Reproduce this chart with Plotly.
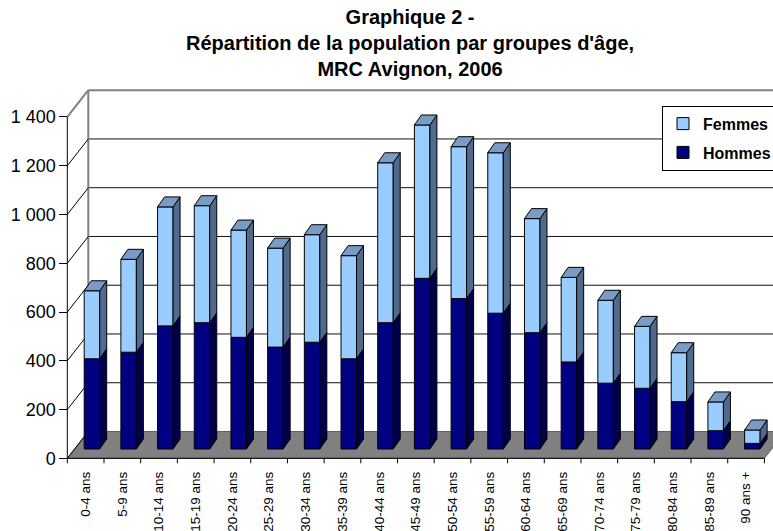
import plotly.graph_objects as go

# ---------------- data ----------------
categories = ["0-4 ans", "5-9 ans", "10-14 ans", "15-19 ans", "20-24 ans", "25-29 ans",
              "30-34 ans", "35-39 ans", "40-44 ans", "45-49 ans", "50-54 ans", "55-59 ans",
              "60-64 ans", "65-69 ans", "70-74 ans", "75-79 ans", "80-84 ans", "85-89 ans",
              "90 ans +"]
hommes = [370, 397, 505, 518, 458, 418, 438, 370, 518, 700, 617, 557, 477, 357, 270, 249, 194, 75, 23]
femmes = [279, 381, 488, 480, 440, 406, 441, 423, 656, 629, 623, 658, 468, 347, 340, 254, 201, 118, 55]
y_tick_values = [0, 200, 400, 600, 800, 1000, 1200, 1400]
y_tick_labels = ["0", "200", "400", "600", "800", "1 000", "1 200", "1 400"]
title_lines = ["Graphique 2 -", "Répartition de la population par groupes d'âge,", "MRC Avignon, 2006"]

# ---------------- colours ----------------
C_F_FRONT, C_F_SIDE, C_F_TOP = "#99CCFF", "#4F6A8C", "#7A9CC4"
C_H_FRONT, C_H_SIDE = "#000080", "#00004A"
C_FLOOR = "#808080"

# ---------------- geometry (pixels -> data units) ----------------
W, H = 773, 531
M_L, M_R, M_T, M_B = 57, 0, 85, 63
AX_X = 67.3          # pixel of front-left corner
ZERO_PX = 458.3      # pixel of value 0 on front plane
CAT_PX = 36.69       # pixel width of one category
PXY = 0.2438         # pixels per unit value
plot_w = W - M_L - M_R
plot_h = H - M_T - M_B

DX = 21 / CAT_PX     # full depth offset (x)
DY = 26.8 / PXY      # full depth offset (y)
BAR_OFF_X = 6.3 / CAT_PX
BAR_BASE = 9.3 / PXY
BAR_W = 15.5 / CAT_PX
SIDE_DX = 7 / CAT_PX
SIDE_DY = 10 / PXY

n = len(categories)
x_left = -0.5 - (AX_X - M_L) / CAT_PX
x_right = x_left + plot_w / CAT_PX
y_bottom = -((H - M_B) - ZERO_PX) / PXY
y_top = (ZERO_PX - M_T) / PXY

centers = list(range(n))
bar_x = [c + BAR_OFF_X for c in centers]
h_base = [BAR_BASE] * n
f_base = [BAR_BASE + h for h in hommes]

fig = go.Figure()

# front faces
fig.add_trace(go.Bar(x=bar_x, y=hommes, base=h_base, width=BAR_W, name="Hommes",
                     marker=dict(color=C_H_FRONT, line=dict(color="black", width=1)),
                     legendrank=2, legendgroup="h"))
fig.add_trace(go.Bar(x=bar_x, y=femmes, base=f_base, width=BAR_W, name="Femmes",
                     marker=dict(color=C_F_FRONT, line=dict(color="black", width=1)),
                     legendrank=1, legendgroup="f"))


def side_faces(bases, heights):
    xs, ys = [], []
    for bx, b, h in zip(bar_x, bases, heights):
        xr = bx + BAR_W / 2
        t = b + h
        xs += [xr, xr + SIDE_DX, xr + SIDE_DX, xr, xr, None]
        ys += [b, b + SIDE_DY, t + SIDE_DY, t, b, None]
    return xs, ys


def top_faces(bases, heights):
    xs, ys = [], []
    for bx, b, h in zip(bar_x, bases, heights):
        xl, xr = bx - BAR_W / 2, bx + BAR_W / 2
        t = b + h
        xs += [xl, xl + SIDE_DX, xr + SIDE_DX, xr, xl, None]
        ys += [t, t + SIDE_DY, t + SIDE_DY, t, t, None]
    return xs, ys


for (xs, ys), col in [(side_faces(h_base, hommes), C_H_SIDE),
                      (side_faces(f_base, femmes), C_F_SIDE),
                      (top_faces(f_base, femmes), C_F_TOP)]:
    fig.add_trace(go.Scatter(x=xs, y=ys, mode="lines", fill="toself", fillcolor=col,
                             line=dict(color="black", width=1), showlegend=False,
                             hoverinfo="skip"))

# ---------------- walls, floor, gridlines (shapes below traces) ----------------
shapes = []
x0f, x1f = -0.5, n - 0.5
# floor
shapes.append(dict(type="path", xref="x", yref="y", layer="below",
                   path=f"M {x0f},0 L {x1f},0 L {x1f + DX},{DY} L {x0f + DX},{DY} Z",
                   fillcolor=C_FLOOR, line=dict(color="#606060", width=1)))
# back wall gridlines
for v in y_tick_values[1:-1]:
    shapes.append(dict(type="line", xref="x", yref="y", layer="below",
                       x0=x0f + DX, x1=x1f + DX, y0=v + DY, y1=v + DY,
                       line=dict(color="#101010", width=1)))
# back wall top edge
top_v = y_tick_values[-1]
shapes.append(dict(type="line", xref="x", yref="y", layer="below",
                   x0=x0f + DX, x1=x1f + DX, y0=top_v + DY, y1=top_v + DY,
                   line=dict(color="#808080", width=2)))
# back wall left edge
shapes.append(dict(type="line", xref="x", yref="y", layer="below",
                   x0=x0f + DX, x1=x0f + DX, y0=DY, y1=top_v + DY,
                   line=dict(color="#808080", width=2)))
# side wall diagonals
for v in y_tick_values:
    col, wd = ("#808080", 2) if v == top_v else ("black", 1)
    shapes.append(dict(type="line", xref="x", yref="y", layer="below",
                       x0=x0f, x1=x0f + DX, y0=v, y1=v + DY,
                       line=dict(color=col, width=wd)))
# front y axis line
shapes.append(dict(type="line", xref="x", yref="y", layer="below",
                   x0=x0f, x1=x0f, y0=0, y1=top_v, line=dict(color="black", width=1)))
# front x axis line
shapes.append(dict(type="line", xref="x", yref="y", layer="below",
                   x0=x0f, x1=x1f, y0=0, y1=0, line=dict(color="black", width=1)))
# category boundary ticks
tick_len = 5 / PXY
for i in range(n + 1):
    b = i - 0.5
    shapes.append(dict(type="line", xref="x", yref="y", layer="below",
                       x0=b, x1=b, y0=0, y1=-tick_len, line=dict(color="black", width=1)))

fig.update_layout(
    width=W, height=H,
    margin=dict(l=M_L, r=M_R, t=M_T, b=M_B, autoexpand=False),
    paper_bgcolor="white", plot_bgcolor="white",
    barmode="overlay",
    shapes=shapes,
    showlegend=True,
    legend=dict(x=(662 - M_L) / plot_w, y=((H - M_B) - 105.7) / plot_h,
                xanchor="left", yanchor="top",
                bgcolor="white", bordercolor="black", borderwidth=1,
                font=dict(family="Liberation Sans, Arial, sans-serif", size=16,
                          color="black", weight="bold"),
                traceorder="grouped", tracegroupgap=5),
    xaxis=dict(range=[x_left, x_right], tickmode="array", tickvals=centers,
               ticktext=categories, tickangle=-90, ticks="outside", ticklen=7,
               tickcolor="rgba(0,0,0,0)", showgrid=False, zeroline=False, showline=False,
               anchor="free", position=((H - M_B) - ZERO_PX) / plot_h,
               tickfont=dict(family="Liberation Sans, Arial, sans-serif",
                             size=13.5, color="black"),
               fixedrange=True),
    yaxis=dict(range=[y_bottom, y_top], tickmode="array", tickvals=y_tick_values,
               ticktext=y_tick_labels, ticks="outside", ticklen=8, tickcolor="black",
               showgrid=False, zeroline=False, showline=False,
               anchor="free", position=(AX_X - M_L) / plot_w,
               tickfont=dict(family="Liberation Sans, Arial, sans-serif", size=18, color="black"),
               fixedrange=True),
    annotations=[dict(text="<br>".join(title_lines), xref="paper", yref="paper",
                      x=(410 - M_L) / plot_w, y=((H - M_B) - 4) / plot_h,
                      xanchor="center", yanchor="top", showarrow=False,
                      font=dict(family="Liberation Sans, Arial, sans-serif", size=20,
                                color="black", weight="bold"))],
)

fig.write_html("out.html", config={"displayModeBar": False},
               post_script="document.body.style.margin='0';")
